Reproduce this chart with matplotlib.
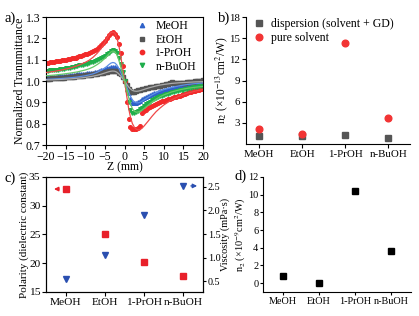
import matplotlib
matplotlib.use("Agg")
import matplotlib.pyplot as plt
import numpy as np

plt.rcParams['font.family'] = ['Liberation Serif', 'DejaVu Serif']
plt.rcParams['font.size'] = 8
plt.rcParams['mathtext.fontset'] = 'stix'
plt.rcParams['axes.linewidth'] = 0.8

# ---- panel a: Z-scan data (open aperture) ----
# scan positions, 0.5 mm steps
z_pts = np.arange(-20, 20.25, 0.5)

meoh_pts = [1.018, 1.019, 1.019, 1.020, 1.021, 1.021, 1.022, 1.023, 1.023, 1.024, 1.025,
            1.026, 1.027, 1.028, 1.029, 1.030, 1.031, 1.032, 1.033, 1.034, 1.035,
            1.036, 1.037, 1.038, 1.040, 1.042, 1.044, 1.047, 1.050, 1.053, 1.056,
            1.060, 1.063, 1.066, 1.067, 1.065, 1.060, 1.050, 1.037, 1.020,
            1.000,
            0.975, 0.945, 0.915, 0.898, 0.895, 0.897, 0.902, 0.908, 0.914, 0.920,
            0.925, 0.930, 0.935, 0.939, 0.943, 0.946, 0.949, 0.952, 0.955, 0.958,
            0.960, 0.962, 0.964, 0.966, 0.968, 0.970, 0.971, 0.973, 0.974, 0.976,
            0.977, 0.979, 0.980, 0.982, 0.983, 0.985, 0.987, 0.989, 0.991, 0.993]
etoh_pts = [1.010, 1.011, 1.011, 1.012, 1.013, 1.013, 1.014, 1.015, 1.015, 1.016, 1.017,
            1.018, 1.019, 1.020, 1.021, 1.022, 1.023, 1.024, 1.025, 1.026, 1.027,
            1.028, 1.029, 1.030, 1.031, 1.032, 1.034, 1.036, 1.038, 1.040, 1.042,
            1.044, 1.046, 1.048, 1.049, 1.048, 1.045, 1.040, 1.032, 1.018,
            1.000,
            0.980, 0.962, 0.952, 0.948, 0.950, 0.953, 0.956, 0.959, 0.962, 0.964,
            0.966, 0.968, 0.970, 0.972, 0.974, 0.976, 0.977, 0.979, 0.980, 0.982,
            0.984, 0.988, 0.992, 0.994, 0.993, 0.991, 0.990, 0.990, 0.991, 0.992,
            0.993, 0.994, 0.995, 0.996, 0.997, 0.998, 0.999, 1.000, 1.001, 1.003]
proh_pts = [1.085, 1.086, 1.088, 1.089, 1.090, 1.092, 1.094, 1.095, 1.097, 1.099, 1.100,
            1.102, 1.104, 1.106, 1.108, 1.110, 1.113, 1.116, 1.119, 1.122, 1.125,
            1.128, 1.132, 1.136, 1.140, 1.145, 1.152, 1.160, 1.168, 1.178, 1.190,
            1.203, 1.215, 1.224, 1.228, 1.222, 1.205, 1.175, 1.130, 1.070,
            1.000,
            0.900, 0.820, 0.785, 0.777, 0.775, 0.775, 0.778, 0.790, 0.850, 0.858,
            0.866, 0.873, 0.879, 0.884, 0.889, 0.894, 0.898, 0.902, 0.905, 0.908,
            0.911, 0.914, 0.917, 0.920, 0.923, 0.926, 0.929, 0.932, 0.935, 0.938,
            0.941, 0.944, 0.947, 0.950, 0.953, 0.955, 0.958, 0.960, 0.962, 0.964]
buoh_pts = [1.048, 1.049, 1.050, 1.051, 1.052, 1.053, 1.054, 1.055, 1.056, 1.058, 1.059,
            1.061, 1.063, 1.065, 1.067, 1.069, 1.071, 1.073, 1.075, 1.077, 1.080,
            1.082, 1.085, 1.088, 1.091, 1.094, 1.098, 1.102, 1.107, 1.112, 1.118,
            1.125, 1.132, 1.139, 1.144, 1.141, 1.130, 1.110, 1.080, 1.042,
            1.000,
            0.950, 0.900, 0.865, 0.852, 0.850, 0.853, 0.860, 0.868, 0.876, 0.884,
            0.891, 0.898, 0.904, 0.910, 0.915, 0.920, 0.924, 0.928, 0.932, 0.935,
            0.938, 0.941, 0.944, 0.947, 0.950, 0.952, 0.954, 0.956, 0.958, 0.960,
            0.962, 0.964, 0.966, 0.968, 0.970, 0.972, 0.974, 0.975, 0.977, 0.978]

# theoretical fits
z_fit = [-20, -18, -16, -14, -12, -10, -9, -8, -7, -6, -5, -4.5, -4, -3.5, -3, -2.5, -2,
         -1.5, -1, -0.5, 0, 0.5, 1, 1.5, 2, 2.5, 3, 3.5, 4, 4.5, 5, 6, 7, 8, 9, 10,
         12, 14, 16, 18, 20]
meoh_fit = [1.008, 1.010, 1.012, 1.015, 1.019, 1.025, 1.029, 1.034, 1.041, 1.050, 1.062,
            1.069, 1.077, 1.084, 1.087, 1.085, 1.076, 1.060, 1.040, 1.020, 1.000, 0.975,
            0.950, 0.928, 0.912, 0.902, 0.898, 0.898, 0.901, 0.906, 0.912, 0.924, 0.935,
            0.945, 0.953, 0.960, 0.970, 0.978, 0.984, 0.988, 0.991]
etoh_fit = [1.005, 1.006, 1.008, 1.010, 1.013, 1.017, 1.020, 1.023, 1.027, 1.032, 1.038,
            1.041, 1.044, 1.046, 1.047, 1.046, 1.042, 1.034, 1.024, 1.012, 1.000, 0.986,
            0.973, 0.963, 0.956, 0.953, 0.952, 0.953, 0.955, 0.958, 0.961, 0.967, 0.972,
            0.977, 0.981, 0.984, 0.989, 0.992, 0.994, 0.996, 0.997]
proh_fit = [1.040, 1.045, 1.052, 1.060, 1.072, 1.088, 1.098, 1.112, 1.130, 1.152, 1.182,
            1.200, 1.215, 1.226, 1.230, 1.225, 1.205, 1.170, 1.120, 1.060, 1.000, 0.935,
            0.875, 0.830, 0.800, 0.783, 0.774, 0.771, 0.773, 0.780, 0.790, 0.812, 0.835,
            0.856, 0.873, 0.888, 0.912, 0.930, 0.943, 0.953, 0.960]
buoh_fit = [1.025, 1.028, 1.032, 1.037, 1.043, 1.052, 1.058, 1.066, 1.077, 1.090, 1.107,
            1.117, 1.127, 1.136, 1.141, 1.138, 1.125, 1.100, 1.068, 1.033, 1.000, 0.962,
            0.925, 0.893, 0.870, 0.858, 0.854, 0.855, 0.859, 0.865, 0.872, 0.887, 0.902,
            0.915, 0.926, 0.935, 0.949, 0.959, 0.966, 0.971, 0.975]

# ---- panels b-d ----
solvents = ['MeOH', 'EtOH', '1-PrOH', 'n-BuOH']
n2_dispersion = [1.2, 1.2, 1.3, 0.9]      # x1e-13 cm^2/W
n2_pure = [2.2, 1.4, 14.3, 3.7]           # x1e-13 cm^2/W
polarity = [32.9, 25.1, 20.3, 17.7]       # dielectric constant
viscosity = [0.55, 1.06, 1.9, 2.52]       # mPa s
n2_d = [0.85, 0.05, 10.4, 3.65]           # x1e-9 cm^2/W

fig = plt.figure(figsize=(4.19, 3.16), dpi=100)

# a)
ax_a = fig.add_axes([0.110, 0.541, 0.3747, 0.405])
series = [
    ('MeOH', meoh_pts, meoh_fit, '^', '#2f62c9', '#5b8ee6'),
    ('EtOH', etoh_pts, etoh_fit, 's', '#555555', '#ababab'),
    ('1-PrOH', proh_pts, proh_fit, 'o', '#f22a2a', '#f04848'),
    ('n-BuOH', buoh_pts, buoh_fit, 'v', '#1fae4b', '#66c866'),
]
for name, pts, fit, mk, c_pt, c_fit in series:
    ax_a.plot(z_pts, pts, linestyle='none', marker=mk, ms=2.6, color=c_pt,
              mec=c_pt, label=name, zorder=2)
for name, pts, fit, mk, c_pt, c_fit in series:
    ax_a.plot(z_fit, fit, '-', lw=0.9, color=c_fit, zorder=3)
ax_a.set_xlim(-20, 20)
ax_a.set_ylim(0.7, 1.3)
ax_a.set_xticks(np.arange(-20, 21, 5))
ax_a.set_yticks(np.arange(0.7, 1.31, 0.1))
ax_a.yaxis.set_major_formatter(matplotlib.ticker.FormatStrFormatter('%.1f'))
ax_a.set_xlabel('Z (mm)', labelpad=-1, fontsize=8.5)
ax_a.set_ylabel('Normalized Trannmittance', labelpad=0, fontsize=8.5)
ax_a.legend(loc='upper right', bbox_to_anchor=(1.0, 1.03), frameon=False,
            handletextpad=0.5, handlelength=1.2, labelspacing=0.12,
            borderaxespad=0.2, markerscale=1.2, fontsize=8.5)
ax_a.tick_params(direction='out', length=3, pad=1, labelsize=8.5)

# b)
ax_b = fig.add_axes([0.587, 0.544, 0.391, 0.402])
xb = np.arange(1, len(solvents) + 1)
ax_b.plot(xb, n2_dispersion, 's', ms=4.2, color='#555555', label='dispersion (solvent + GD)')
ax_b.plot(xb, n2_pure, 'o', ms=4.8, color='#f23434', label='pure solvent')
ax_b.set_xlim(0.7, 4.5)
ax_b.set_ylim(0, 18)
ax_b.set_yticks(np.arange(3, 19, 3))
ax_b.set_xticks(xb)
ax_b.set_xticklabels(solvents, fontsize=7.8)
ax_b.set_ylabel('n$_2$ (×10$^{-13}$cm$^2$/W)', labelpad=0, fontsize=8.3)
ax_b.spines['top'].set_visible(False)
ax_b.spines['right'].set_visible(False)
ax_b.legend(loc='upper left', bbox_to_anchor=(0.0, 1.04), frameon=False,
            handletextpad=0.4, handlelength=1.2, labelspacing=0.15,
            borderaxespad=0.1, fontsize=8.5)
ax_b.tick_params(direction='out', length=3, pad=1, labelsize=7.8)

# c)
ax_c = fig.add_axes([0.110, 0.076, 0.3747, 0.364])
xc = np.arange(1, len(solvents) + 1)
ax_c.plot(xc, polarity, 's', ms=4.0, color='#e8202a')
ax_c.set_xlim(0.5, 4.5)
ax_c.set_ylim(15, 35)
ax_c.set_yticks(np.arange(15, 36, 5))
ax_c.set_xticks(xc)
ax_c.set_xticklabels(solvents, fontsize=7)
ax_c.set_ylabel('Polarity (dielectric constant)', labelpad=0, fontsize=8)
ax_c.tick_params(direction='out', length=3, pad=1, labelsize=8.2)
ax_c2 = ax_c.twinx()
ax_c2.plot(xc, viscosity, 'v', ms=5.0, color='#2a4fb0')
ax_c2.set_ylim(0.27, 2.71)
ax_c2.set_yticks(np.arange(0.5, 2.6, 0.5))
ax_c2.yaxis.set_major_formatter(matplotlib.ticker.FormatStrFormatter('%.1f'))
ax_c2.set_ylabel('Viscosity (mPa·s)', labelpad=0, fontsize=7.4)
ax_c2.tick_params(direction='out', length=2.5, pad=1, labelsize=7.3)
ax_c.annotate('', xy=(xc[0] - 0.37, polarity[0]), xytext=(xc[0] - 0.1, polarity[0]),
              arrowprops=dict(arrowstyle='-|>', color='#e8202a', lw=1.0, mutation_scale=6))
ax_c2.annotate('', xy=(xc[-1] + 0.42, viscosity[-1]), xytext=(xc[-1] + 0.12, viscosity[-1]),
               arrowprops=dict(arrowstyle='-|>', color='#2a4fb0', lw=1.0, mutation_scale=6))

# d)
ax_d = fig.add_axes([0.628, 0.076, 0.352, 0.364])
xd = np.arange(1, len(solvents) + 1)
ax_d.plot(xd, n2_d, 's', ms=4.0, color='black')
ax_d.set_xlim(0.45, 4.55)
ax_d.set_ylim(-1, 12)
ax_d.set_yticks(np.arange(0, 13, 2))
ax_d.set_xticks(xd)
ax_d.set_xticklabels(solvents, fontsize=7)
ax_d.set_ylabel('n$_2$ (×10$^{-9}$cm$^2$/W)', labelpad=0, fontsize=7.4)
ax_d.spines['top'].set_visible(False)
ax_d.spines['right'].set_visible(False)
ax_d.tick_params(direction='out', length=2.5, pad=1, labelsize=7.4)

# panel letters
fig.text(0.010, 0.930, 'a)', fontsize=10.5)
fig.text(0.520, 0.930, 'b)', fontsize=10.5)
fig.text(0.010, 0.424, 'c)', fontsize=10.5)
fig.text(0.560, 0.430, 'd)', fontsize=10.5)

fig.savefig('out.png', dpi=100)
